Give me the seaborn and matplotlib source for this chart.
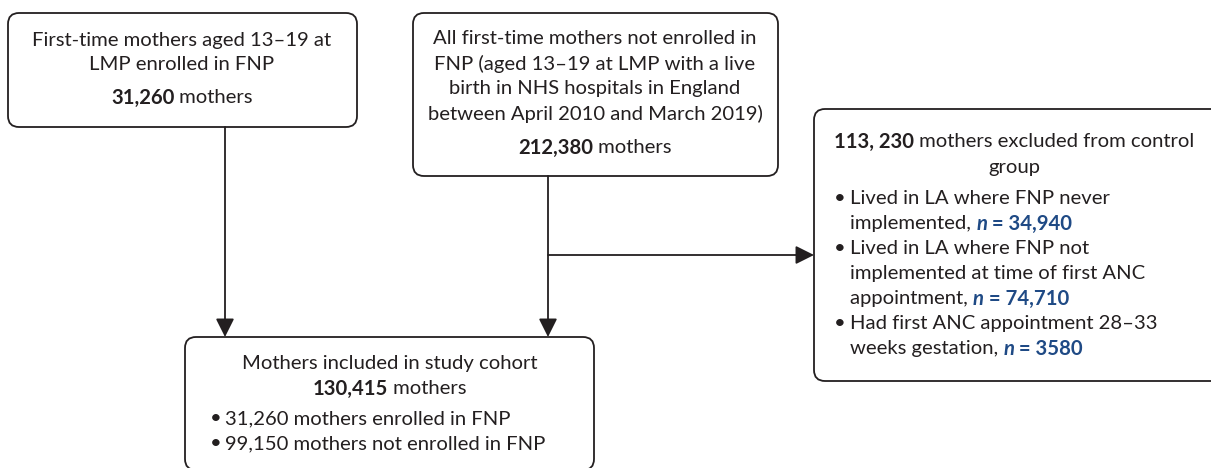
import matplotlib
matplotlib.use("Agg")
import matplotlib.pyplot as plt
from matplotlib.patches import FancyBboxPatch, FancyArrowPatch
import seaborn as sns

# ── Data (flowchart labels / counts) ─────────────────────────────────────────
fnp_title = ["First-time mothers aged 13–19 at", "LMP enrolled in FNP"]
fnp_count = "31,260"

ctrl_title = ["All first-time mothers not enrolled in",
              "FNP (aged 13–19 at LMP with a live",
              "birth in NHS hospitals in England",
              "between April 2010 and March 2019)"]
ctrl_count = "212,380"

excl_count = "113, 230"
excl_reasons = [["Lived in LA where FNP never", "implemented, "],
                ["Lived in LA where FNP not", "implemented at time of first ANC", "appointment, "],
                ["Had first ANC appointment 28–33", "weeks gestation, "]]
excl_n = ["34,940", "74,710", "3580"]

cohort_title = "Mothers included in study cohort"
cohort_count = "130,415"
cohort_split = ["31,260 mothers enrolled in FNP", "99,150 mothers not enrolled in FNP"]

# ── Styling ──────────────────────────────────────────────────────────────────
sns.set_theme(style="white")
plt.rcParams["font.family"] = ["Lato", "DejaVu Sans"]
DARK = "#231f20"
BLUE = "#1f4a85"
FS = 14.6
LW = 1.3

W, H = 1211, 468
fig = plt.figure(figsize=(W / 100, H / 100), dpi=100)
ax = fig.add_axes([0, 0, 1, 1])
ax.set_xlim(0, W)
ax.set_ylim(H, 0)
ax.axis("off")
renderer = fig.canvas.get_renderer()


def seg_width(s, **kw):
    t = ax.text(0, 0, "|" + s + "|", fontsize=FS, **kw)
    t2 = ax.text(0, 0, "||", fontsize=FS, **kw)
    w = t.get_window_extent(renderer).width - t2.get_window_extent(renderer).width
    t.remove(); t2.remove()
    return w


def rich(x, y, segs, ha="center"):
    # segs: list of (text, weight, style, color)
    widths = [seg_width(s, fontweight=wt, fontstyle=st) for s, wt, st, c in segs]
    total = sum(widths)
    x0 = x - total / 2 if ha == "center" else x
    for (s, wt, st, c), w in zip(segs, widths):
        ax.text(x0, y, s, fontsize=FS, fontweight=wt, fontstyle=st, color=c,
                ha="left", va="center_baseline")
        x0 += w


def plain(x, y, s, ha="center", weight="normal"):
    rich(x, y, [(s, weight, "normal", DARK)], ha=ha)


def box(x0, y0, x1, y1):
    ax.add_patch(FancyBboxPatch((x0, y0), x1 - x0, y1 - y0,
                                boxstyle="round,pad=0,rounding_size=11",
                                fc="white", ec=DARK, lw=LW))


def arrow(p0, p1):
    ax.add_patch(FancyArrowPatch(p0, p1, arrowstyle="-|>,head_length=0.8,head_width=0.4",
                                 mutation_scale=14, color=DARK, lw=LW, shrinkA=0, shrinkB=0))


# ── Boxes ────────────────────────────────────────────────────────────────────
box(8, 13, 357, 127)
box(413, 13, 778, 176)
box(814, 109, 1225, 381)
box(185, 337, 594, 470)

# ── Connectors ───────────────────────────────────────────────────────────────
arrow((225, 127), (225, 337))
arrow((548, 176), (548, 337))
arrow((548, 255), (814, 255))

# ── Text: FNP box ────────────────────────────────────────────────────────────
for i, line in enumerate(fnp_title):
    plain(182, 39 + 24 * i, line)
rich(182, 96, [(fnp_count, "bold", "normal", DARK), (" mothers", "normal", "normal", DARK)])

# ── Text: control box ────────────────────────────────────────────────────────
for i, line in enumerate(ctrl_title):
    plain(595, 37 + 25 * i, line)
rich(595, 146, [(ctrl_count, "bold", "normal", DARK), (" mothers", "normal", "normal", DARK)])

# ── Text: excluded box ───────────────────────────────────────────────────────
rich(1014, 140, [(excl_count, "bold", "normal", DARK),
                 (" mothers excluded from control", "normal", "normal", DARK)])
plain(1014, 166, "group")
y = 197
for lines, n in zip(excl_reasons, excl_n):
    plain(834, y, "•", ha="left")
    for j, line in enumerate(lines):
        if j == len(lines) - 1:
            rich(850, y, [(line, "normal", "normal", DARK),
                          ("n", "bold", "italic", BLUE),
                          (" = " + n, "bold", "normal", BLUE)], ha="left")
        else:
            plain(850, y, line, ha="left")
        y += 25

# ── Text: cohort box ─────────────────────────────────────────────────────────
plain(390, 362, cohort_title)
rich(390, 387, [(cohort_count, "bold", "normal", DARK), (" mothers", "normal", "normal", DARK)])
for i, line in enumerate(cohort_split):
    plain(210, 417 + 25 * i, "•", ha="left")
    plain(225, 417 + 25 * i, line, ha="left")

fig.savefig("out.png", dpi=100, facecolor="white")
